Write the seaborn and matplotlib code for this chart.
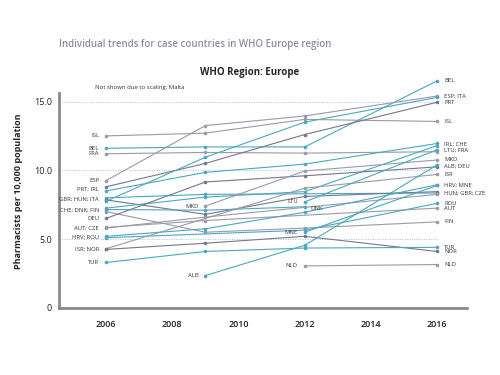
import numpy as np
import pandas as pd
import matplotlib
matplotlib.use("Agg")
import matplotlib.pyplot as plt
import seaborn as sns

years = [2006, 2009, 2012, 2016]
countries = ["ISL", "BEL", "FRA", "ESP", "PRT", "IRL", "GBR", "HUN", "ITA", "CHE",
             "DNK", "FIN", "DEU", "AUT", "CZE", "HRV", "ROU", "ISR", "NOR", "TUR",
             "MKD", "ALB", "LTU", "MNE", "NLD"]
v2006 = [12.5, 11.6, 11.2, 9.25, 8.8, 8.5, 8.0, 7.85, 7.75, 7.25,
         7.15, 7.0, 6.5, 5.85, 5.8, 5.2, 5.1, 4.3, 4.25, 3.3,
         None, None, None, None, None]
v2009 = [12.7, 11.7, 11.3, 13.25, 10.5, 9.85, 8.25, 6.8, 10.95, 8.05,
         7.1, 5.5, 9.15, 6.35, 6.6, 5.75, None, None, 4.7, 4.1,
         7.4, 2.35, None, None, None]
v2012 = [13.7, 11.7, 11.25, 13.95, 12.6, 10.45, None, 8.1, 13.5, 8.45,
         7.35, 5.8, 9.6, None, None, 6.95, 5.65, 8.7, 5.2, 4.35,
         9.95, 4.55, 7.7, 5.5, 3.05]
v2016 = [13.55, 16.5, 11.35, 15.4, 14.95, 11.95, 8.35, 8.45, 15.3, 11.8,
         None, 6.25, 10.25, 7.25, 8.25, 8.95, 7.6, 9.7, 4.1, 4.4,
         10.75, 10.4, 11.5, 8.9, 3.15]
shade = ["gray", "blue", "gray", "gray", "dark", "blue", "blue", "dark", "blue", "blue",
         "blue", "gray", "dark", "gray", "gray", "blue", "blue", "gray", "dark", "blue",
         "gray", "blue", "blue", "blue", "gray"]

left_groups = ["ISL", "BEL", "FRA", "ESP", "PRT; IRL", "GBR; HUN; ITA", "CHE; DNK; FIN",
               "DEU", "AUT; CZE", "HRV; ROU", "ISR; NOR", "TUR"]
right_groups = ["BEL", "ESP; ITA", "PRT", "ISL", "IRL; CHE", "LTU; FRA", "MKD", "ALB; DEU",
                "ISR", "HRV; MNE", "HUN; GBR; CZE", "ROU", "AUT", "FIN", "TUR", "NOR", "NLD"]

title_top = "Individual trends for case countries in WHO Europe region"
title = "WHO Region: Europe"
note = "Not shown due to scaling: Malta"
ylabel = "Pharmacists per 10,000 population"
yticks = [0, 5, 10, 15]
ytick_labels = ["0", "5.0", "10.0", "15.0"]

colors = {"blue": "#4aa7c2", "gray": "#9a9aaa", "dark": "#76768e"}

rows = []
for i, c in enumerate(countries):
    for y, vals in zip(years, [v2006, v2009, v2012, v2016]):
        if vals[i] is not None:
            rows.append({"country": c, "year": y, "value": vals[i]})
df = pd.DataFrame(rows)
pal = {c: colors[s] for c, s in zip(countries, shade)}

sns.set_style("white")
plt.rcParams['font.family'] = ['Open Sans', 'DejaVu Sans']

fig = plt.figure(figsize=(5, 3.75), dpi=100)
ax = fig.add_axes([0.118, 0.179, 0.816, 0.62])

ax.set_xlim(2004.58, 2016.9)
ax.set_ylim(0, 16.9)

for t in yticks[1:]:
    ax.hlines(t, ax.get_xlim()[0], years[-1], colors="#9cc7d8", linestyles=(0, (1, 1.5)),
              linewidth=0.7, zorder=0)

sns.lineplot(data=df, x="year", y="value", hue="country", palette=pal, marker="o",
             markersize=2.6, markeredgewidth=0, linewidth=0.8, legend=False,
             estimator=None, ax=ax)

lab_kw = dict(fontsize=4.2, color="#333333", va="center")
val_by = {y: dict(zip(countries, vals)) for y, vals in zip(years, [v2006, v2009, v2012, v2016])}

for g in left_groups:
    members = [m.strip() for m in g.split(";")]
    yv = np.mean([val_by[years[0]][m] for m in members])
    ax.annotate(g, (years[0], yv), xytext=(-5, 0), textcoords="offset points", ha="right", **lab_kw)
for g in right_groups:
    members = [m.strip() for m in g.split(";")]
    yv = np.mean([val_by[years[-1]][m] for m in members])
    ax.annotate(g, (years[-1], yv), xytext=(5, 0), textcoords="offset points", ha="left", **lab_kw)

for c in countries:
    sub = df[df.country == c]
    first = sub.iloc[0]
    last = sub.iloc[-1]
    if first.year != years[0]:
        ax.annotate(c, (first.year, first.value), xytext=(-5, 0), textcoords="offset points",
                    ha="right", **lab_kw)
    if last.year != years[-1]:
        ax.annotate(c, (last.year, last.value), xytext=(4, -1.5), textcoords="offset points",
                    ha="left", **lab_kw)

ax.set_xticks([2006, 2008, 2010, 2012, 2014, 2016])
ax.set_xticklabels(["2006", "2008", "2010", "2012", "2014", "2016"])
ax.set_yticks(yticks)
ax.set_yticklabels(ytick_labels)
ax.tick_params(axis="both", labelsize=6.5, colors="#222222", length=3, width=1,
               direction="out", pad=2)
ax.tick_params(axis="x", pad=6)
for t in ax.get_xticklabels():
    t.set_fontweight("semibold")
ax.set_xlabel("")
ax.set_ylabel(ylabel, fontsize=6.5, fontweight="bold", labelpad=8)

for s in ["top", "right"]:
    ax.spines[s].set_visible(False)
for s in ["left", "bottom"]:
    ax.spines[s].set_color("#8a8a8a")
    ax.spines[s].set_linewidth(2)
ax.spines["left"].set_bounds(0, 15.6)

fig.text(59 / 500, 1 - 44 / 375, title_top, fontsize=7, color="#8d8dab", fontweight="semibold",
         va="center", ha="left")
fig.text(0.5, 1 - 73 / 375, title, fontsize=7, fontweight="bold", ha="center", va="center")
fig.text(95 / 500, 1 - 87 / 375, note, fontsize=4.3, color="#333333", ha="left", va="center")

fig.savefig("out.png", dpi=100, facecolor="white")
